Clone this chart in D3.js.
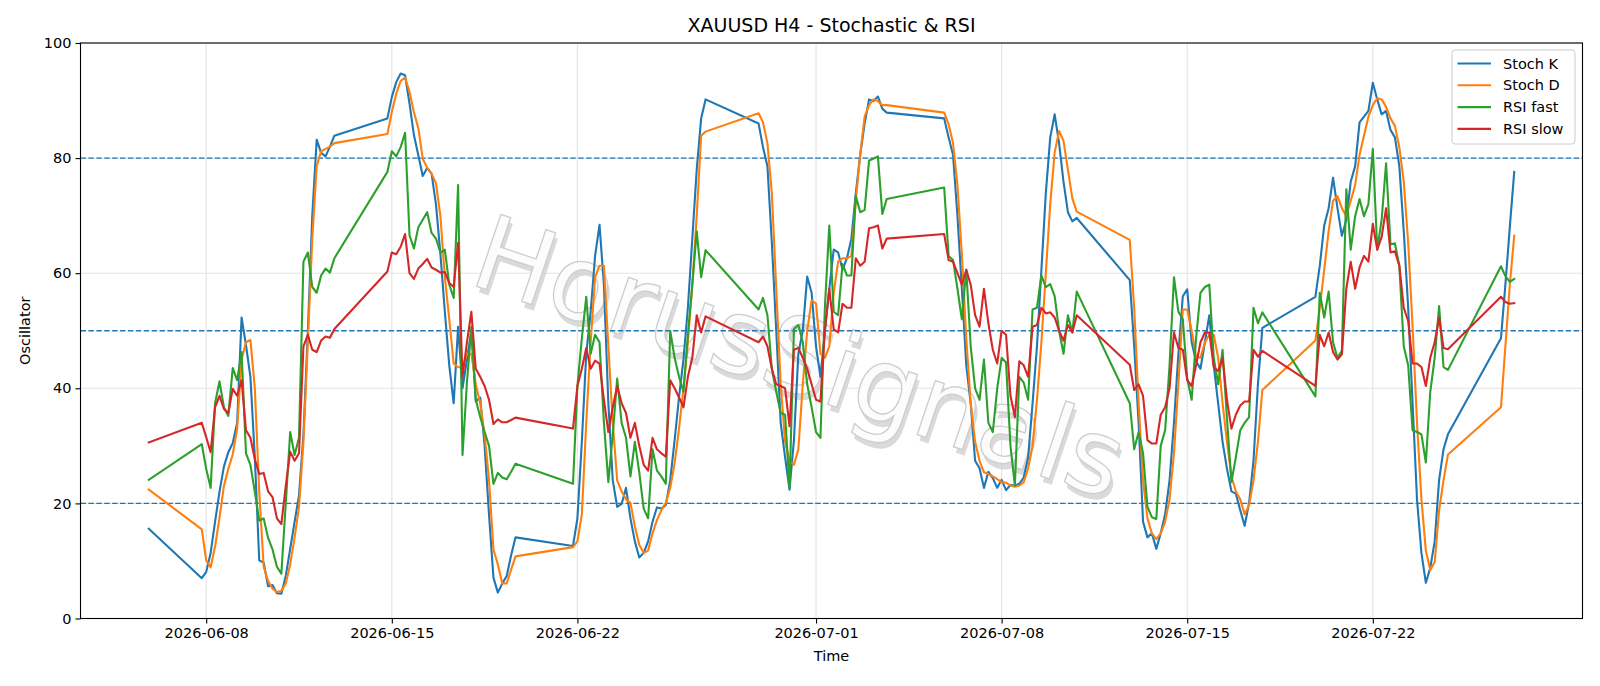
<!DOCTYPE html>
<html>
<head>
<meta charset="utf-8">
<script src="https://cdn.jsdelivr.net/npm/d3@7"></script>
<style>
body{margin:0;background:#fff}
svg{display:block}
text{font-family:"DejaVu Sans",sans-serif;fill:#000}
</style>
</head>
<body>
<div id="chart"></div>
<script>
// H4 bars, grouped by trading session: [first bar, number of bars]
const sessions = [
  ["2026-06-05T20:00", 1], ["2026-06-07T20:00", 31], ["2026-06-14T20:00", 30],
  ["2026-06-21T20:00", 31], ["2026-06-28T20:00", 30], ["2026-07-05T20:00", 31],
  ["2026-07-12T20:00", 31], ["2026-07-19T20:00", 31], ["2026-07-26T20:00", 4]
];

const stochK = [15.6,
  7.0,8.1,11.4,16.8,22,26.4,28.9,30.5,34,52.3,47.5,42,28,10.1,9.7,5.6,5.8,4.4,4.3,7.4,12.1,16.8,21.4,32,50,70,83.2,80.9,80.3,82,83.9,
  86.9,90.6,93.2,94.7,94.4,89.5,84,80.5,76.9,78.3,77.3,71.9,63.3,53.3,44,37.4,50.7,40,45,50,37.7,38.4,30,18,7.1,4.5,6.1,7.4,11,14.1,
  12.6,17.4,30.7,46,53.3,63,68.4,58,37.4,24,19.4,19.9,22.7,17.4,13.4,10.6,11.4,13.4,16.8,19.3,19.1,19.7,24,31,38.5,45,54,66,78,86.9,90.2,
  86,81.9,78.6,65.3,50,34,28,22.4,31,46,50,59.4,56.6,47.3,42,50,57.3,64.1,63.6,60.6,62.6,66,73.9,80.6,86,90.2,89.9,90.7,88.6,87.9,
  86.9,83.6,80.6,70,57.3,44,37.4,27.4,26.1,22.7,25.5,24.4,22.7,24.1,22.3,23.2,23.1,23.4,24.5,28,37.4,47.3,60.6,73.9,83.6,87.6,82.6,75.9,70.6,69,69.6,
  58.8,47.3,34,16.8,14.1,14.8,12.1,14.8,18.1,24,34,46,56,57.2,48,44.7,43.4,48,52.7,44,37.4,30.7,26,22.1,21.7,18.8,16.1,20.1,27.4,40.7,50.5,
  55.9,61.3,68.3,71.3,76.6,71.3,66.5,69.3,75.9,78.6,86.2,87.2,88.2,93.1,90.2,87.6,88.2,84.9,83.6,78.6,67.3,54,37.4,20.7,11.4,6.2,8.8,13.4,24.1,29.4,32,
  48.7,58,68,77.6];

const stochD = [22.4,
  15.5,10.1,8.9,12.5,17.5,23,26,28.5,33,45,48,48.4,40,22,9,6.5,5.2,4.6,4.8,6.1,9.4,14.1,19.4,30.7,48,66,78.6,81.2,81.6,82,82.6,
  84.2,88,91.2,93.4,94,91.5,88,85.2,79.9,78.3,77.3,75.6,69.9,59.3,52,44.3,43.7,43.5,46,46,40.7,37.4,32,24,12,9.4,6.1,6.1,8.5,10.8,
  12.4,13.4,18.1,34,48,59.3,61.3,61.3,47.3,34,24,22.1,20.7,20.1,16,12.8,11.4,11.8,14.8,17.1,18.8,20.1,22.7,27,33,40,48,58,70,83.9,84.6,
  87.8,86.2,82.6,73.9,57.3,40.7,30.7,27.4,26.7,29.4,40.7,50,55.3,54.7,46,45.3,47.3,56.6,62,62.6,62.6,63,72.6,80.6,87.2,89.2,90.2,89.9,89.2,89.2,
  87.9,85.9,82.6,75.3,63.3,48.7,37.4,30.7,27.4,25.4,25.1,24.7,24.2,23.7,23.6,23.1,22.9,23.1,23.7,26.1,30,38,48,60,72,81,84.7,83,78,73,70.7,
  65.8,54,37.4,24,17.4,14.8,13.8,14.8,16.8,20.7,28.7,40.7,53.7,53.7,50,45.5,45.3,48,49.3,49.3,45.3,37.4,30.7,24.7,22.1,20.7,18.1,19.7,24,30.7,39.7,
  48.3,54,60.6,67.3,72.6,73.4,71.3,69.9,72.6,75.3,80.6,83.9,87.2,89.2,90.4,90.2,88.9,86.9,85.6,81.9,75.9,65.3,50.7,34,20.7,11.8,8.4,9.8,18.8,24,28.5,
  36.7,47.3,58,66.5];

const rsiFast = [24.1,
  30.3,26,22.7,37.4,41.2,36.7,35.2,43.5,41.4,46.3,28.7,26.7,22,17,17.4,14,12,9,7.8,20,32.4,28.4,31.4,62,63.6,57.6,56.6,59.6,60.8,60.1,62.6,
  77.6,81.2,80.3,81.9,84.4,66.6,64.3,68,69.3,70.6,67,66,63.6,64.1,58,55.7,75.3,28.4,41,50.7,38,35,32.4,30,23.4,25.3,24.5,24.2,25.5,26.9,
  23.4,40.4,48.7,55.9,46,49.3,48,34,23.7,32,41.7,34,31.4,24.7,30.7,25.4,19.1,17.4,29.4,25.7,24.7,23.4,50,45.3,42,39.4,49.3,58,67.3,59.3,64,
  53.7,55.7,52.7,43.4,39.4,35.7,35.4,22.7,50.3,51,48,40.7,36.7,32.4,31.4,54,68.3,53.3,52.7,61.6,59.6,59.6,73.4,70.6,71,79.6,79.9,80.3,70.3,72.9,
  74.9,63,62.3,57.3,52,60.6,47.3,40,38,45,34,32.4,40,45.3,44.5,30,23.1,42,41,38,53.7,54,59.6,57.6,58.1,56,50,46,52.7,49.7,56.8,
  37.4,29.4,32.4,28.7,19.4,17.6,17.3,30,32.7,44,59.3,53.3,52,41.7,38,48.7,56.6,57.6,58,45.3,40.7,46.7,34.7,23.7,28,32.7,34,35,54,51.3,53.2,
  38.6,56.6,52.3,56.8,48,45.3,46.5,74.6,64.1,69.9,72.9,69.9,72,81.6,64.1,69.3,79.1,65,65.2,61.3,47.3,44,32.7,32.4,32,27.1,39.4,45.3,54.3,43.7,43.2,
  61.2,59.5,58.5,59];

const rsiSlow = [30.6,
  34,31.5,28.9,36.7,38.7,36.4,35.7,39.9,38.7,41.4,32.7,31.4,27.7,25.1,25.3,22.1,21.1,17.4,16.4,23,29,27.4,28.7,47.3,49.3,46.7,46.3,48.3,49,48.8,50.3,
  60.3,63.6,63.3,64.6,66.8,60,59,60.8,61.6,62.5,61,60.6,60.1,60.2,58.3,57.6,65.3,42,48,53.3,43.4,42,40.4,38,33.8,34.6,34.1,34.1,34.5,34.9,
  33,40.4,43.4,47,43.4,44.8,44.3,38,32.4,36.7,40.4,37.4,35.7,31.4,34,30,26.7,25.7,31.4,29.4,28.7,28.1,41.4,40,38.4,36.7,42,45.3,52.7,49.7,52.5,
  48,49,47.3,43.4,40.7,40.4,40,33.4,46.7,47,45.3,43.4,40.7,38,37.7,50,57.3,50.3,49.7,54.7,54,54,62.6,61.3,62,67.8,68,68.3,64.3,66,
  66.8,62.3,62,60,58,60.6,58,52.7,50.7,57.3,51.3,46.7,44.3,50,49.3,38.7,35,44.7,44,42,50.7,51,54,53,53.2,52.3,50,48.3,51,49.7,52.7,
  44.1,39.7,40.7,38.7,31,30.4,30.4,35.4,36.7,40,49.7,47,46.7,41.4,40.4,44,48,49.7,49.7,43.7,43,45.3,38,33,35.4,37,37.7,37.7,46.7,45.5,46.5,
  40.4,49.3,47.3,49.7,46.3,45,45.9,57.3,62,57.3,61,63,62,68.6,64.1,66.3,71.3,63.6,63.8,61.3,54,51.7,44.3,44.3,43.7,40.4,45.3,48,52.3,47,46.8,
  55.9,55,54.7,54.8];

const seriesNames = ["Stoch K", "Stoch D", "RSI fast", "RSI slow"];
const seriesColors = ["#1f77b4", "#ff7f0e", "#2ca02c", "#d62728"];
const levels = [20, 50, 80];
const yTicks = [0, 20, 40, 60, 80, 100];
const dateTicks = ["2026-06-08", "2026-06-15", "2026-06-22", "2026-07-01", "2026-07-08", "2026-07-15", "2026-07-22"];

const W = 1600, H = 686;
const plot = {left: 80.5, right: 1582.5, top: 43, bottom: 618.5};

const parseBar = d3.utcParse("%Y-%m-%dT%H:%M");
const parseDay = d3.utcParse("%Y-%m-%d");
const times = sessions.flatMap(([s, n]) => d3.range(n).map(k => d3.utcHour.offset(parseBar(s), 4 * k)));

const [t0, t1] = d3.extent(times);
const pad = (t1 - t0) * 0.05;
const x = d3.scaleUtc().domain([new Date(+t0 - pad), new Date(+t1 + pad)]).range([plot.left, plot.right]);
const y = d3.scaleLinear().domain([0, 100]).range([plot.bottom, plot.top]);

const svg = d3.select("#chart").append("svg").attr("width", W).attr("height", H);
svg.append("rect").attr("width", W).attr("height", H).attr("fill", "#fff");

// grid
const grid = svg.append("g").attr("stroke", "#e3e3e3").attr("stroke-width", 1.1);
grid.selectAll(".gy").data(yTicks).join("line")
  .attr("x1", plot.left).attr("x2", plot.right)
  .attr("y1", d => y(d)).attr("y2", d => y(d));
grid.selectAll(".gx").data(dateTicks.map(parseDay)).join("line")
  .attr("x1", d => x(d)).attr("x2", d => x(d))
  .attr("y1", plot.top).attr("y2", plot.bottom);

// watermark
const wm = svg.append("g").attr("transform", "translate(800,357) rotate(18.6)");
wm.append("text").attr("x", 4).attr("y", 5).attr("text-anchor", "middle").attr("dominant-baseline", "central")
  .style("font-size", "104px").style("fill", "#d2d2d2").style("opacity", 0.8).text("HorusSignals");
wm.append("text").attr("text-anchor", "middle").attr("dominant-baseline", "central")
  .style("font-size", "104px").style("fill", "#fcfcfc").style("stroke", "#cdcdcd").style("stroke-width", 1.3)
  .text("HorusSignals");

// level lines
svg.append("g").selectAll("line").data(levels).join("line")
  .attr("x1", plot.left).attr("x2", plot.right)
  .attr("y1", d => y(d)).attr("y2", d => y(d))
  .attr("stroke", "#1f77b4").attr("stroke-width", 1.3).attr("stroke-dasharray", "5.5,2.4");

// series
const allSeries = [stochK, stochD, rsiFast, rsiSlow];
const line = d3.line().x((d, i) => x(times[i])).y(d => y(d));
svg.append("g").selectAll("path").data(allSeries).join("path")
  .attr("d", d => line(d))
  .attr("fill", "none")
  .attr("stroke", (d, i) => seriesColors[i])
  .attr("stroke-width", 2.1)
  .attr("stroke-linejoin", "round")
  .attr("stroke-linecap", "square");

// axes
const xAxis = svg.append("g").attr("transform", `translate(0,${plot.bottom})`)
  .call(d3.axisBottom(x).tickValues(dateTicks.map(parseDay)).tickFormat(d3.utcFormat("%Y-%m-%d")).tickSize(5).tickPadding(4));
const yAxis = svg.append("g").attr("transform", `translate(${plot.left},0)`)
  .call(d3.axisLeft(y).tickValues(yTicks).tickSize(5).tickPadding(4));
[xAxis, yAxis].forEach(a => {
  a.select(".domain").remove();
  a.selectAll(".tick line").attr("stroke", "#000").attr("stroke-width", 1.1);
  a.selectAll(".tick text").style("font-size", "14.5px").style("font-family", "DejaVu Sans");
});

svg.append("rect")
  .attr("x", plot.left).attr("y", plot.top)
  .attr("width", plot.right - plot.left).attr("height", plot.bottom - plot.top)
  .attr("fill", "none").attr("stroke", "#000").attr("stroke-width", 1.1);

// titles
svg.append("text").attr("x", (plot.left + plot.right) / 2).attr("y", 32)
  .attr("text-anchor", "middle").style("font-size", "19px").text("XAUUSD H4 - Stochastic & RSI");
svg.append("text").attr("x", (plot.left + plot.right) / 2).attr("y", 661)
  .attr("text-anchor", "middle").style("font-size", "14.5px").text("Time");
svg.append("text").attr("transform", `translate(30,${(plot.top + plot.bottom) / 2}) rotate(-90)`)
  .attr("text-anchor", "middle").style("font-size", "14.5px").text("Oscillator");

// legend
const lg = svg.append("g").attr("transform", "translate(1452,50)");
lg.append("rect").attr("width", 123).attr("height", 94).attr("rx", 3)
  .attr("fill", "#fff").attr("fill-opacity", 0.8).attr("stroke", "#cccccc");
seriesNames.forEach((name, i) => {
  const yy = 13.5 + i * 21.8;
  lg.append("line").attr("x1", 5.5).attr("x2", 39).attr("y1", yy).attr("y2", yy)
    .attr("stroke", seriesColors[i]).attr("stroke-width", 2.1);
  lg.append("text").attr("x", 51).attr("y", yy + 5).style("font-size", "14.5px").text(name);
});
</script>
</body>
</html>
